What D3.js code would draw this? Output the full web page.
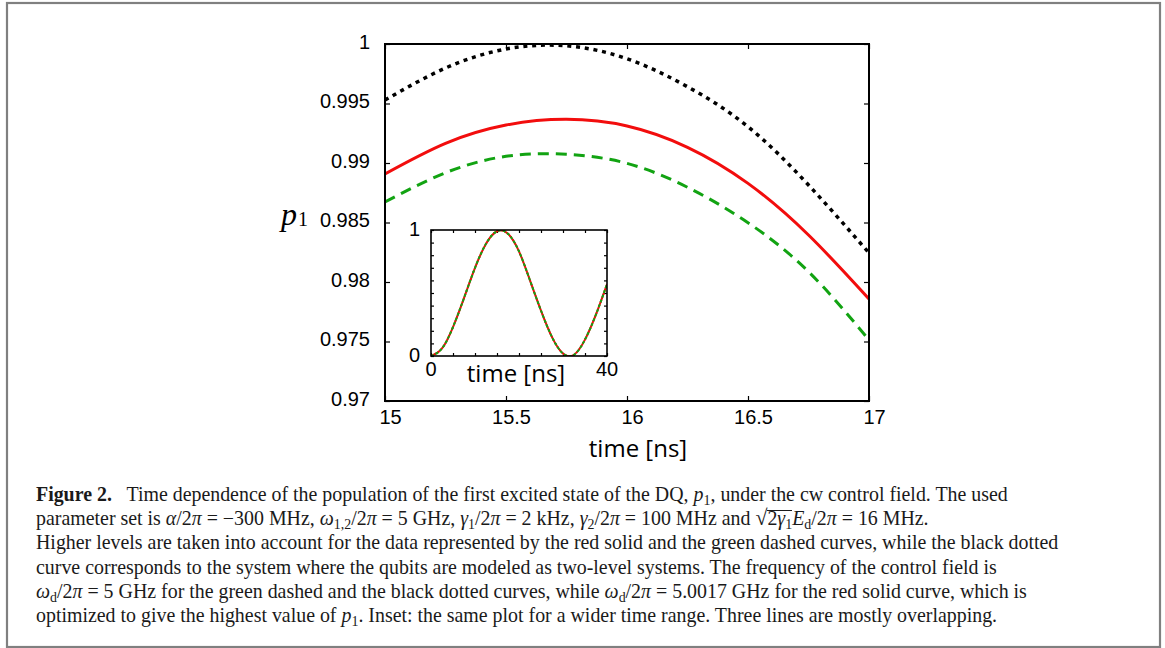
<!DOCTYPE html>
<html>
<head>
<meta charset="utf-8">
<script src="https://cdn.jsdelivr.net/npm/d3@7"></script>
<style>
  body { margin: 0; background: #fff; }
  #wrap { position: relative; width: 1165px; height: 648px; overflow: hidden; }
  svg { position: absolute; left: 0; top: 0; }
  #caption {
    position: absolute; left: 36px; top: 482px;
    font-family: "Liberation Serif", "Times New Roman", serif;
    font-size: 19.9px; line-height: 24.2px; color: #1a1a1a;
    white-space: nowrap;
  }
  #caption sub { font-size: 0.7em; vertical-align: -0.3em; line-height: 0; }
  #caption .rt { font-size: 1.1em; }
  #caption .ov { display: inline-block; line-height: 0.8em; border-top: 1px solid #1a1a1a; }
</style>
</head>
<body>
<div id="wrap"></div>
<script>
// main plot data
var times = [15, 15.25, 15.5, 15.75, 16, 16.25, 16.5, 16.75, 17];
var redSolid = [0.98908, 0.99165, 0.99319, 0.99367, 0.99311, 0.99132, 0.98829, 0.98395, 0.97857];
var greenDashed = [0.98672, 0.98918, 0.99056, 0.99073, 0.98997, 0.98796, 0.98498, 0.98087, 0.97513];
var blackDotted = [0.99529, 0.99798, 0.99958, 0.99985, 0.99876, 0.99641, 0.99305, 0.98815, 0.98244];

var xTicks = [15, 15.5, 16, 16.5, 17];
var yTicks = [0.97, 0.975, 0.98, 0.985, 0.99, 0.995, 1];

// inset data
var insetTimes = [0, 2.5, 5, 7.5, 10, 12.5, 15, 17.5, 20, 22.5, 25, 27.5, 30, 32.5, 35, 37.5, 40];
var insetRed = [0, 0.06, 0.23, 0.46, 0.70, 0.89, 0.99, 0.97, 0.83, 0.60, 0.36, 0.15, 0.02, 0.01, 0.13, 0.33, 0.57];
var insetGreen = [0, 0.06, 0.23, 0.46, 0.70, 0.89, 0.99, 0.97, 0.83, 0.60, 0.36, 0.15, 0.02, 0.01, 0.13, 0.33, 0.57];
var insetBlack = [0, 0.06, 0.23, 0.46, 0.70, 0.89, 0.99, 0.97, 0.83, 0.60, 0.36, 0.15, 0.02, 0.01, 0.13, 0.33, 0.57];
var insetXTicks = [0, 5, 10, 15, 20, 25, 30, 35, 40];
var insetXLabels = [0, 40];
var insetYTicks = [0, 0.1, 0.2, 0.3, 0.4, 0.5, 0.6, 0.7, 0.8, 0.9, 1];
var insetYLabels = [0, 1];

var captionLines = [
  "<b>Figure 2.</b>&nbsp;&nbsp; Time dependence of the population of the first excited state of the DQ, <i>p</i><sub>1</sub>, under the cw control field. The used",
  "parameter set is <i>α</i>/2<i>π</i> = −300 MHz, <i>ω</i><sub>1,2</sub>/2<i>π</i> = 5 GHz, <i>γ</i><sub>1</sub>/2<i>π</i> = 2 kHz, <i>γ</i><sub>2</sub>/2<i>π</i> = 100 MHz and <span class=\"rt\">√</span><span class=\"ov\">2<i>γ</i><sub>1</sub></span><i>E</i><sub>d</sub>/2<i>π</i> = 16 MHz.",
  "Higher levels are taken into account for the data represented by the red solid and the green dashed curves, while the black dotted",
  "curve corresponds to the system where the qubits are modeled as two-level systems. The frequency of the control field is",
  "<i>ω</i><sub>d</sub>/2<i>π</i> = 5 GHz for the green dashed and the black dotted curves, while <i>ω</i><sub>d</sub>/2<i>π</i> = 5.0017 GHz for the red solid curve, which is",
  "optimized to give the highest value of <i>p</i><sub>1</sub>. Inset: the same plot for a wider time range. Three lines are mostly overlapping."
];

var RED = "#f20d0d", GREEN = "#12a312";
var sans = "'Liberation Sans', Arial, sans-serif";

var svg = d3.select("#wrap").append("svg")
    .attr("width", 1165)
    .attr("height", 648);

// outer figure frame
svg.append("rect")
    .attr("x", 7).attr("y", 3)
    .attr("width", 1153).attr("height", 644)
    .attr("fill", "none")
    .attr("stroke", "#808080")
    .attr("stroke-width", 2.2);

// main plot
var plotLeft = 385, plotTop = 44, width = 484, height = 357;
var g = svg.append("g").attr("transform", "translate(" + plotLeft + "," + plotTop + ")");

var x = d3.scaleLinear().domain([15, 17]).range([0, width]);
var y = d3.scaleLinear().domain([0.97, 1]).range([height, 0]);

function styleAxis(sel, size) {
    sel.select(".domain").remove();
    sel.selectAll("line").attr("stroke", "#000").attr("stroke-width", 1.2);
    sel.selectAll("text").attr("fill", "#000")
        .style("font-family", sans).style("font-size", size + "px");
}

g.append("g")
    .attr("transform", "translate(0," + height + ")")
    .call(d3.axisBottom(x).tickValues(xTicks).tickSize(-5).tickPadding(9).tickFormat(String))
    .call(styleAxis, 20)
    .selectAll("text").attr("dx", 5);
g.append("g")
    .call(d3.axisTop(x).tickValues(xTicks).tickSize(-5).tickFormat(""))
    .call(styleAxis, 20);
g.append("g")
    .call(d3.axisLeft(y).tickValues(yTicks).tickSize(-5).tickPadding(15).tickFormat(String))
    .call(styleAxis, 20)
    .selectAll("text").attr("dy", "0.22em");
g.append("g")
    .attr("transform", "translate(" + width + ",0)")
    .call(d3.axisRight(y).tickValues(yTicks).tickSize(-5).tickFormat(""))
    .call(styleAxis, 20);

g.append("clipPath").attr("id", "mainClip")
  .append("rect").attr("width", width).attr("height", height);

var line = d3.line()
    .x(function(d, i) { return x(times[i]); })
    .y(function(d) { return y(d); })
    .curve(d3.curveNatural);

var curves = g.append("g").attr("clip-path", "url(#mainClip)");
curves.append("path").datum(blackDotted)
    .attr("d", line).attr("fill", "none")
    .attr("stroke", "#000").attr("stroke-width", 3.5)
    .attr("stroke-dasharray", "4 4.8");
curves.append("path").datum(redSolid)
    .attr("d", line).attr("fill", "none")
    .attr("stroke", RED).attr("stroke-width", 3);
curves.append("path").datum(greenDashed)
    .attr("d", line).attr("fill", "none")
    .attr("stroke", GREEN).attr("stroke-width", 3)
    .attr("stroke-dasharray", "11 7");

g.append("rect")
    .attr("width", width).attr("height", height)
    .attr("fill", "none").attr("stroke", "#000").attr("stroke-width", 2);

// axis titles
svg.append("text")
    .attr("x", 638).attr("y", 457)
    .attr("text-anchor", "middle")
    .style("font-family", "'Open Sans', sans-serif")
    .style("font-size", "24px")
    .text("time [ns]");

var pl = svg.append("text")
    .attr("x", 281).attr("y", 225)
    .style("font-family", "'Liberation Serif', serif")
    .style("font-size", "32px");
pl.append("tspan").style("font-style", "italic").text("p");
pl.append("tspan").attr("dx", 1).attr("dy", 1).style("font-size", "20px").text("1");

// inset
var iLeft = 431, iTop = 230, iW = 176, iH = 126;
var ig = svg.append("g").attr("transform", "translate(" + iLeft + "," + iTop + ")");
var ix = d3.scaleLinear().domain([0, 40]).range([0, iW]);
var iy = d3.scaleLinear().domain([0, 1]).range([iH, 0]);

ig.append("rect").attr("width", iW).attr("height", iH).attr("fill", "#fff");

ig.append("g").attr("transform", "translate(0," + iH + ")")
    .call(d3.axisBottom(ix).tickValues(insetXTicks).tickSize(-3).tickFormat(""))
    .call(styleAxis, 19);
ig.append("g")
    .call(d3.axisTop(ix).tickValues(insetXTicks).tickSize(-3).tickFormat(""))
    .call(styleAxis, 19);
ig.append("g")
    .call(d3.axisLeft(iy).tickValues(insetYTicks).tickSize(-3).tickFormat(""))
    .call(styleAxis, 19);
ig.append("g").attr("transform", "translate(" + iW + ",0)")
    .call(d3.axisRight(iy).tickValues(insetYTicks).tickSize(-3).tickFormat(""))
    .call(styleAxis, 19);

ig.selectAll(".ylab").data(insetYLabels).enter().append("text")
    .attr("class", "ylab")
    .attr("x", -11).attr("y", function(d) { return iy(d); })
    .attr("dy", "0.32em")
    .attr("text-anchor", "end")
    .style("font-family", sans).style("font-size", "20px")
    .text(String);
ig.selectAll(".xlab").data(insetXLabels).enter().append("text")
    .attr("class", "xlab")
    .attr("x", function(d) { return ix(d); }).attr("y", iH + 20)
    .attr("text-anchor", "middle")
    .style("font-family", sans).style("font-size", "20px")
    .text(String);

ig.append("clipPath").attr("id", "insetClip")
  .append("rect").attr("width", iW).attr("height", iH);

var iline = d3.line()
    .x(function(d, i) { return ix(insetTimes[i]); })
    .y(function(d) { return iy(d); })
    .curve(d3.curveNatural);

var ic = ig.append("g").attr("clip-path", "url(#insetClip)");
ic.append("path").datum(insetBlack).attr("d", iline).attr("fill", "none")
    .attr("stroke", "#000").attr("stroke-width", 1.6).attr("stroke-dasharray", "1 3");
ic.append("path").datum(insetRed).attr("d", iline).attr("fill", "none")
    .attr("stroke", RED).attr("stroke-width", 2);
ic.append("path").datum(insetGreen).attr("d", iline).attr("fill", "none")
    .attr("stroke", GREEN).attr("stroke-width", 2).attr("stroke-dasharray", "3 2");

ig.append("rect").attr("width", iW).attr("height", iH)
    .attr("fill", "none").attr("stroke", "#000").attr("stroke-width", 1.6);

svg.append("text")
    .attr("x", 516).attr("y", 382)
    .attr("text-anchor", "middle")
    .style("font-family", "'Open Sans', sans-serif")
    .style("font-size", "24px")
    .text("time [ns]");

// caption
d3.select("#wrap").append("div")
    .attr("id", "caption")
    .html(captionLines.join("<br>"));
</script>
</body>
</html>
